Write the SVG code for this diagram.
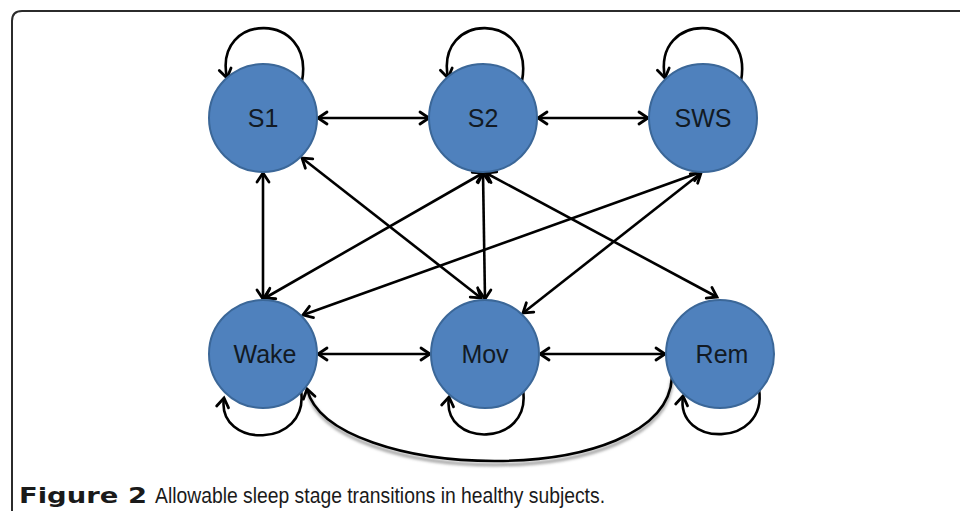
<svg xmlns="http://www.w3.org/2000/svg" width="960" height="511" viewBox="0 0 960 511">
  <defs>
    <marker id="arrow" markerUnits="userSpaceOnUse" markerWidth="16" markerHeight="16" viewBox="-12 -8 16 16" refX="0" refY="0" orient="auto-start-reverse" overflow="visible">
      <path d="M -9 -6 L 0 0 L -9 6" fill="none" stroke="#000" stroke-width="2.8" stroke-linecap="round" stroke-linejoin="miter"/>
    </marker>
    <filter id="soft" x="-10%" y="-20%" width="120%" height="160%">
      <feGaussianBlur stdDeviation="1.6"/>
    </filter>
  </defs>
  <style>
    .frame { fill: none; stroke: #2b2b2b; stroke-width: 2; }
    .node circle { fill: #4f81bd; stroke: #3b6798; stroke-width: 2; }
    .node text { font-family: "Liberation Sans", Arial, sans-serif; font-size: 25px; fill: #121a24; text-anchor: middle; }
    .edge { fill: none; stroke: #000; stroke-width: 2.6; }
    .both { marker-start: url(#arrow); marker-end: url(#arrow); }
    .one { marker-end: url(#arrow); }
    .caption { fill: #1a1a1a; }
  </style>

  <rect width="960" height="511" fill="#fff"/>
  <!-- panel frame, open to the right and bottom -->
  <path class="frame" d="M 12 530 L 12 21 Q 12 11 22 11 L 970 11"/>

  <!-- connectors -->
  <g id="connectors">
    <!-- self loops, top row -->
    <path class="edge one" d="M 302 81 C 315 11, 213 11, 227 78"/>
    <path class="edge one" d="M 522 81 C 535 11, 435 11, 448 78"/>
    <path class="edge one" d="M 741 81 C 754 11, 652 11, 665 78"/>
    <!-- self loops, bottom row -->
    <path class="edge one" d="M 301 390 C 310 449, 216 449, 224 398"/>
    <path class="edge one" d="M 523 390 C 532 448, 441 448, 449 397"/>
    <path class="edge one" d="M 759 389 C 768 448, 675 448, 683 396"/>

    <!-- horizontal links -->
    <path class="edge both" d="M 318 118 L 429 118"/>
    <path class="edge both" d="M 538 118 L 648 118"/>
    <path class="edge both" d="M 318 354 L 430 354"/>
    <path class="edge both" d="M 540 354 L 665 354"/>

    <!-- vertical and diagonal links -->
    <path class="edge both" d="M 263 173 L 263 299"/>
    <path class="edge both" d="M 302 158 L 481 298"/>
    <path class="edge both" d="M 483 173 L 265 298"/>
    <path class="edge both" d="M 483 173 L 485 299"/>
    <path class="edge both" d="M 486 173 L 717 297"/>
    <path class="edge both" d="M 701 172 L 303 315"/>
    <path class="edge both" d="M 701 173 L 523 313"/>

    <!-- Rem back to Wake, with its soft shadow -->
    <path d="M 672 380 C 666 496, 330 486, 308 392" fill="none" stroke="#9a9a9a" stroke-width="3" filter="url(#soft)"/>
    <path class="edge one" d="M 672 377 C 666 492, 330 482, 307 389"/>
  </g>

  <!-- nodes -->
  <g id="node-s1" class="node">
    <circle cx="263" cy="118" r="54"/>
    <text x="263" y="127">S1</text>
  </g>
  <g id="node-s2" class="node">
    <circle cx="483" cy="118" r="54"/>
    <text x="483" y="127">S2</text>
  </g>
  <g id="node-sws" class="node">
    <circle cx="703" cy="118" r="54"/>
    <text x="703" y="127">SWS</text>
  </g>
  <g id="node-wake" class="node">
    <circle cx="263" cy="354" r="54"/>
    <text x="265" y="363">Wake</text>
  </g>
  <g id="node-mov" class="node">
    <circle cx="485" cy="354" r="54"/>
    <text x="485" y="363">Mov</text>
  </g>
  <g id="node-rem" class="node">
    <circle cx="720" cy="354" r="54"/>
    <text x="722" y="363">Rem</text>
  </g>

  <!-- caption -->
  <text class="caption" x="19" y="503" font-family="'DejaVu Sans', sans-serif" font-size="22" font-weight="bold" textLength="128" lengthAdjust="spacingAndGlyphs">Figure 2</text>
  <text class="caption" x="155" y="503" font-family="'Liberation Sans', Arial, sans-serif" font-size="22" textLength="450" lengthAdjust="spacingAndGlyphs">Allowable sleep stage transitions in healthy subjects.</text>
</svg>
